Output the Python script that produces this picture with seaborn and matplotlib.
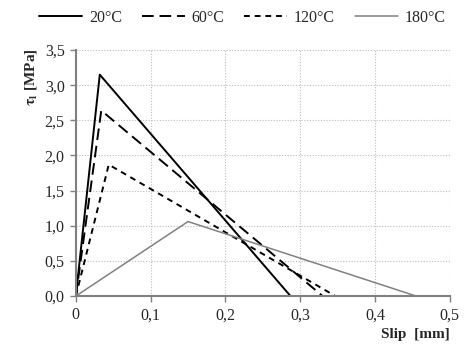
import matplotlib
matplotlib.use("Agg")
import matplotlib.pyplot as plt
import seaborn as sns
import pandas as pd

labels = ["20°C", "60°C", "120°C", "180°C"]
slip_20 = [0.0, 0.032, 0.287]
tau_20 = [0.0, 3.15, 0.0]
slip_60 = [0.0, 0.034, 0.330]
tau_60 = [0.0, 2.64, 0.0]
slip_120 = [0.0, 0.044, 0.347]
tau_120 = [0.0, 1.87, 0.0]
slip_180 = [0.0, 0.150, 0.455]
tau_180 = [0.0, 1.06, 0.0]

xticks = [0, 0.1, 0.2, 0.3, 0.4, 0.5]
xticklabels = ["0", "0,1", "0,2", "0,3", "0,4", "0,5"]
yticks = [0, 0.5, 1.0, 1.5, 2.0, 2.5, 3.0, 3.5]
yticklabels = ["0,0", "0,5", "1,0", "1,5", "2,0", "2,5", "3,0", "3,5"]

sns.set_style("white")
plt.rcParams["font.family"] = ["Liberation Serif", "DejaVu Serif"]
plt.rcParams["mathtext.fontset"] = "stix"

fig = plt.figure(figsize=(4.77, 3.55), dpi=100)
ax = fig.add_axes([0.159, 0.166, 0.784, 0.693])

series = [(slip_20, tau_20), (slip_60, tau_60), (slip_120, tau_120), (slip_180, tau_180)]
styles = [
    dict(color="black", lw=1.4, linestyle="-"),
    dict(color="black", lw=1.4, linestyle=(0, (6, 3))),
    dict(color="black", lw=1.4, linestyle=(0, (3, 2.5))),
    dict(color="#808080", lw=1.1, linestyle="-"),
]
for (x, y), lab, st in zip(series, labels, styles):
    df = pd.DataFrame({"x": x, "y": y})
    sns.lineplot(data=df, x="x", y="y", ax=ax, label=lab, sort=False, **st)

ax.set_xlim(0, 0.5)
ax.set_ylim(0, 3.5)
ax.set_xticks(xticks)
ax.set_xticklabels(xticklabels)
ax.set_yticks(yticks)
ax.set_yticklabels(yticklabels)
ax.tick_params(axis="both", direction="out", length=4, width=1, color="#808080",
               labelsize=11.5, pad=4, bottom=True, left=True)
ax.grid(True, linestyle=(0, (1, 1.5)), color="#bdbdbd", lw=0.8)
for s in ["top", "right"]:
    ax.spines[s].set_visible(False)
for s in ["left", "bottom"]:
    ax.spines[s].set_color("#808080")
    ax.spines[s].set_linewidth(1.5)

ax.set_xlabel("Slip  [mm]", fontsize=11, fontweight="bold")
ax.xaxis.set_label_coords(1.0, -0.13)
ax.xaxis.label.set_horizontalalignment("right")
ax.set_ylabel(r"$\mathbf{\tau_l}$ [MPa]", fontsize=11, fontweight="bold")
ax.yaxis.set_label_coords(-0.12, 0.89)
ax.yaxis.label.set_verticalalignment("center")

leg = ax.legend(loc="lower center", bbox_to_anchor=(0.445, 1.04), ncol=4, frameon=False,
                fontsize=11.5, handlelength=2.7, columnspacing=1.25, handletextpad=0.4)

fig.savefig("out.png", dpi=100)
